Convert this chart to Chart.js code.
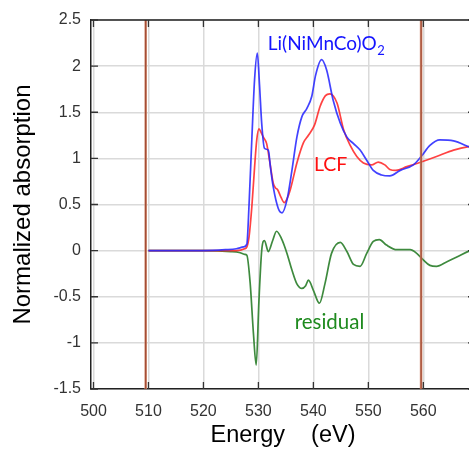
<!DOCTYPE html>
<html><head><meta charset="utf-8">
<script src="https://cdn.jsdelivr.net/npm/chart.js@4/dist/chart.umd.min.js"></script>
<style>html,body{margin:0;padding:0;overflow:hidden;background:#fff}#wrap{width:477px;height:451px;position:relative}</style>
</head><body><div id="wrap"><canvas id="c" width="477" height="451"></canvas></div>
<script>
// ---- data ----
const xTickValues = [500, 510, 520, 530, 540, 550, 560];
const xTickLabels = ['500', '510', '520', '530', '540', '550', '560'];
const yTickValues = [-1.5, -1, -0.5, 0, 0.5, 1, 1.5, 2, 2.5];
const yTickLabels = ['-1.5', '-1', '-0.5', '0', '0.5', '1', '1.5', '2', '2.5'];

const sampleEnergy = [510, 515, 520, 524, 526, 527.3, 527.9, 528.3, 528.8, 529.3, 529.8, 530.2, 530.6, 531.1, 531.8, 532.2, 532.7, 533.6, 534.3, 535.2, 536.1, 537.0, 537.9, 538.8, 539.7, 540.4, 541.5, 542.4, 543.6, 544.9, 546.1, 547.3, 548.5, 549.7, 550.9, 552.4, 553.9, 555.8, 558.2, 559.6, 561.2, 563.0, 565.5, 568.5, 570];
const sampleValues = [0.0, 0.0, 0.0, 0.01, 0.02, 0.04, 0.07, 0.5, 1.2, 1.85, 2.14, 1.8, 1.38, 1.11, 1.09, 0.9, 0.69, 0.46, 0.41, 0.55, 0.87, 1.23, 1.45, 1.54, 1.67, 1.9, 2.07, 1.96, 1.63, 1.38, 1.23, 1.16, 1.09, 0.98, 0.87, 0.82, 0.81, 0.87, 0.93, 1.02, 1.14, 1.20, 1.19, 1.12, 1.09];

const lcfEnergy = [510, 515, 520, 526, 527.5, 527.9, 528.3, 528.8, 529.3, 529.7, 530.1, 530.5, 530.9, 531.5, 532.1, 532.7, 533.1, 533.5, 534.1, 534.7, 535.2, 535.8, 537.0, 538.2, 539.1, 540.2, 541.2, 542.2, 543.0, 544.3, 545.5, 546.7, 547.9, 549.1, 550.6, 551.8, 553.0, 553.9, 555.0, 557.0, 559.6, 562.4, 565.5, 568.5, 570];
const lcfValues = [0.0, 0.0, 0.0, 0.0, 0.02, 0.04, 0.15, 0.47, 0.9, 1.2, 1.32, 1.28, 1.23, 1.16, 0.95, 0.73, 0.68, 0.66, 0.58, 0.52, 0.56, 0.66, 0.95, 1.17, 1.25, 1.36, 1.56, 1.68, 1.70, 1.60, 1.31, 1.14, 1.02, 0.95, 0.93, 0.96, 0.93, 0.88, 0.87, 0.91, 0.96, 1.02, 1.09, 1.13, 1.14];

const residualEnergy = [510, 515, 520, 525, 526.5, 527.5, 527.9, 528.5, 529.1, 529.6, 530.1, 530.6, 531.1, 531.8, 532.6, 533.3, 534.2, 535.2, 536.1, 537.0, 537.9, 538.6, 539.1, 540.0, 541.1, 542.1, 543.3, 544.9, 546.1, 547.3, 548.5, 549.7, 550.9, 552.0, 553.3, 555.2, 557.6, 558.8, 560.0, 561.2, 562.4, 564.3, 566.1, 568.5, 570];
const residualValues = [0.0, 0.0, 0.0, -0.01, -0.02, -0.04, -0.05, -0.35, -0.9, -1.24, -0.54, 0.0, 0.11, -0.01, 0.11, 0.21, 0.13, -0.03, -0.21, -0.36, -0.41, -0.38, -0.32, -0.43, -0.57, -0.36, -0.03, 0.09, -0.01, -0.15, -0.17, -0.03, 0.10, 0.12, 0.06, 0.01, 0.01, -0.03, -0.10, -0.16, -0.17, -0.12, -0.07, 0.0, 0.03];

const markerEnergies = [509.5, 559.6];

const seriesNames = ['Li(NiMnCo)O', 'LCF', 'residual'];

// ---- build ----
const pts = (xs, ys) => xs.map((x, i) => ({x: x, y: ys[i]}));
const yMin = yTickValues[0], yMax = yTickValues[yTickValues.length - 1];
const markerSets = [];
markerEnergies.forEach(e => {
  markerSets.push({data: [{x: e, y: yMin}, {x: e, y: yMax}], borderColor: 'rgba(140,40,20,0.9)', borderWidth: 0.9, pointRadius: 0, order: 0});
});
markerEnergies.forEach(e => {
  markerSets.push({data: [{x: e, y: yMin}, {x: e, y: yMax}], borderColor: 'rgba(205,135,105,0.9)', borderWidth: 2.6, pointRadius: 0, order: 1});
});
const lineCommon = {pointRadius: 0, borderWidth: 1.7, cubicInterpolationMode: 'monotone', fill: false};
const datasets = markerSets.concat([
  Object.assign({label: seriesNames[0], data: pts(sampleEnergy, sampleValues), borderColor: 'rgba(40,40,255,0.88)', order: 2}, lineCommon),
  Object.assign({label: seriesNames[1], data: pts(lcfEnergy, lcfValues), borderColor: 'rgba(255,40,40,0.88)', order: 3}, lineCommon),
  Object.assign({label: seriesNames[2], data: pts(residualEnergy, residualValues), borderColor: '#3e8a3e', order: 4}, lineCommon)
]);

const annotations = [
  {text: 'Li(NiMnCo)O', sub: '2', x: 531.7, y: 2.18, color: '#1414ff', size: 19},
  {text: 'LCF', x: 540.1, y: 0.866, color: '#ff1010', size: 19.5},
  {text: 'residual', x: 536.6, y: -0.85, color: '#1e8a1e', size: 20.5}
];

const framePlugin = {
  id: 'frame',
  afterDatasetsDraw(chart) {
    const ctx = chart.ctx, a = chart.chartArea, xs = chart.scales.x, ys = chart.scales.y;
    ctx.save();
    ctx.textBaseline = 'alphabetic';
    annotations.forEach(an => {
      const px = xs.getPixelForValue(an.x), py = ys.getPixelForValue(an.y);
      ctx.fillStyle = an.color;
      ctx.font = an.size + 'px Lato';
      ctx.fillText(an.text, px, py);
      if (an.sub) {
        const w = ctx.measureText(an.text).width;
        ctx.font = '13px Lato';
        ctx.fillText(an.sub, px + w + 0.5, py + 5);
      }
    });
    ctx.strokeStyle = '#222';
    ctx.lineWidth = 1.5;
    ctx.beginPath();
    ctx.moveTo(a.left, a.top); ctx.lineTo(a.right, a.top);
    ctx.moveTo(a.right, a.top); ctx.lineTo(a.right, a.bottom);
    ctx.stroke();
    ctx.strokeStyle = '#333';
    ctx.lineWidth = 1.3;
    ctx.beginPath();
    xTickValues.forEach(v => {
      const p = xs.getPixelForValue(v);
      ctx.moveTo(p, a.bottom); ctx.lineTo(p, a.bottom - 7);
      ctx.moveTo(p, a.top); ctx.lineTo(p, a.top + 7);
    });
    yTickValues.forEach(v => {
      const p = ys.getPixelForValue(v);
      ctx.moveTo(a.left, p); ctx.lineTo(a.left + 7, p);
      ctx.moveTo(a.right, p); ctx.lineTo(a.right - 7, p);
    });
    ctx.stroke();
    ctx.restore();
  }
};

new Chart(document.getElementById('c'), {
  type: 'line',
  data: {datasets: datasets},
  options: {
    responsive: false,
    animation: false,
    devicePixelRatio: 1,
    layout: {padding: {top: 20, right: 2, bottom: 0, left: 0}},
    plugins: {legend: {display: false}, tooltip: {enabled: false}},
    scales: {
      x: {
        type: 'linear', min: 499.55, max: 569.4,
        afterBuildTicks: s => { s.ticks = xTickValues.map(v => ({value: v})); },
        afterFit: s => { s.height = 62; },
        ticks: {callback: (v, i) => xTickLabels[i], font: {family: 'Liberation Sans', size: 16}, color: '#333', padding: 13, maxRotation: 0, autoSkip: false},
        grid: {color: '#dadada', lineWidth: 1.5, drawTicks: false},
        border: {color: '#222', width: 1.5},
        title: {display: true, text: 'Energy    (eV)', font: {family: 'Liberation Sans', size: 23.5}, color: '#000', padding: {top: 0, bottom: 1}}
      },
      y: {
        type: 'linear', min: yMin, max: yMax,
        afterBuildTicks: s => { s.ticks = yTickValues.map(v => ({value: v})); },
        afterFit: s => { s.width = 91; },
        ticks: {callback: (v, i) => yTickLabels[i], font: {family: 'Liberation Sans', size: 16}, color: '#333', padding: 10},
        grid: {color: '#dadada', lineWidth: 1.5, drawTicks: false},
        border: {color: '#222', width: 1.5},
        title: {display: true, text: 'Normalized absorption', font: {family: 'Liberation Sans', size: 24}, color: '#000', padding: {top: 9, bottom: 0}}
      }
    }
  },
  plugins: [framePlugin]
});
</script>
</body></html>
